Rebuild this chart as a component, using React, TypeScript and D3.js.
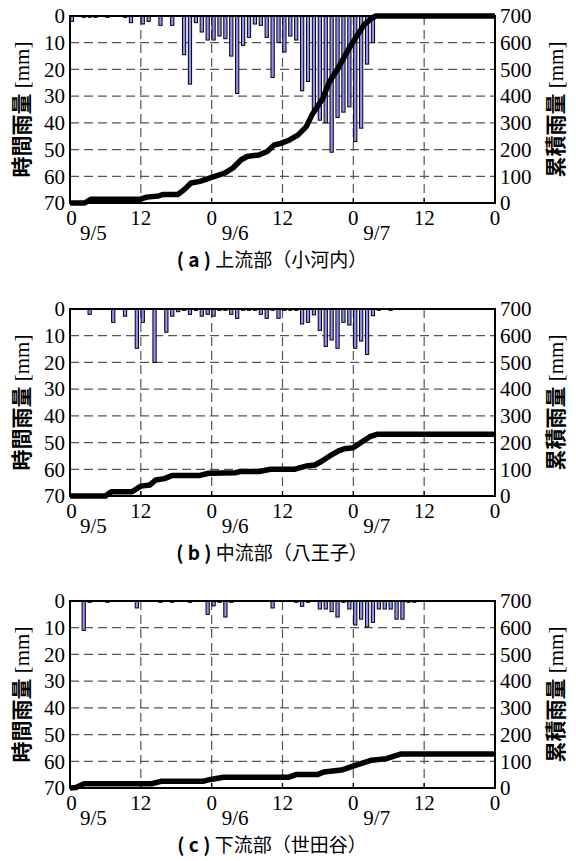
import { useEffect, useRef } from 'react'
import * as d3 from 'd3'

// hourly rainfall [mm], hour 0 = 9/5 0:00
const rainA = [
  2, 0, 0.5, 0.5, 0.5, 0, 0.5, 0, 0, 0.5,
  2.5, 0, 3, 2, 0, 3.5, 0, 3.5, 0, 14.5,
  25.5, 2.5, 6, 9, 9, 7.5, 8.5, 15, 29, 11,
  8, 3, 3.5, 8, 23, 10, 13.5, 7.5, 9, 28,
  24.5, 35, 39, 40, 51, 38, 36, 34, 47, 42,
  18, 10, 0, 0, 0, 0, 0, 0, 0, 0,
  0, 0, 0, 0, 0, 0, 0, 0, 0, 0, 0, 0,
]
const rainB = [
  0, 0, 0, 2, 0, 0, 0, 5, 0, 2.7,
  0, 14.7, 5, 0, 20, 0, 8.7, 2.7, 1, 0.5,
  2, 0.5, 2.7, 2, 2.7, 0.5, 0.5, 2, 3.5, 0.5,
  0.5, 0.5, 2, 3.5, 0.5, 3.5, 0.5, 0.5, 0.5, 5.6,
  5, 2.2, 8, 14, 11.6, 14.7, 5, 6, 14.7, 12,
  17, 2.5, 0.5, 0, 0.5, 0, 0, 0, 0, 0,
  0, 0, 0, 0, 0, 0, 0, 0, 0, 0, 0, 0,
]
const rainC = [
  0, 0, 11, 0.5, 0, 0, 0.5, 0, 0, 0,
  0, 2.6, 0, 0, 0, 0.5, 0, 0.5, 0, 0,
  0.5, 0, 0, 5, 1.8, 0.5, 6, 0.5, 0, 0,
  0, 0, 0, 0, 2.6, 0, 0, 0, 0.5, 2,
  0.5, 0, 3, 3, 4, 6, 0.5, 3, 9, 6.8,
  9.7, 8, 3, 3, 3, 6.8, 6.8, 0.5, 0.5, 0,
  0, 0, 0, 0, 0, 0, 0, 0, 0, 0, 0, 0,
]

// cumulative rainfall [mm] read at the line's bends
const cumHoursA = [0, 2.5, 3.5, 11.8, 13, 15, 15.7, 18.3, 19.4, 20.5, 22, 24, 26.2, 27.6, 29, 30, 32, 33.4, 34.6, 35.7, 37.2, 38.6, 40, 41, 42.8, 43.9, 45.6, 47.3, 48.7, 49.8, 51, 51.8, 72]
const cumValsA = [0, 0, 14, 14, 22, 26, 32, 32, 51, 75, 81, 96, 112, 131, 162, 174, 180, 193, 217, 223, 236, 254, 285, 330, 390, 451, 512, 580, 629, 666, 690, 700, 700]
const cumHoursB = [0, 6, 7, 10.5, 12, 13.5, 14.5, 16, 17.3, 22, 23.5, 28, 29, 32, 34, 38, 39, 40, 41.5, 42.7, 44, 45.5, 46.5, 48, 49.3, 50.8, 52, 72]
const cumValsB = [0, 0, 16, 16, 37, 41, 60, 65, 77, 77, 85, 87, 92, 92, 100, 100, 106, 112, 116, 131, 150, 169, 177, 181, 200, 222, 231, 231]
const cumHoursC = [0, 1, 2.4, 13.8, 15.4, 22.5, 23.8, 26, 37, 38.4, 42, 43, 46, 47.7, 51.1, 53.6, 56, 72]
const cumValsC = [0, 2, 16, 16, 25, 25, 32, 40, 40, 51, 51, 60, 67, 80, 104, 110, 127, 127]

const leftTicks = [0, 10, 20, 30, 40, 50, 60, 70]
const rightTicks = [0, 100, 200, 300, 400, 500, 600, 700]
const xTickHours = [0, 12, 24, 36, 48, 60, 72]
const xTickLabels = ['0', '12', '0', '12', '0', '12', '0']
const dateHours = [0, 24, 48]
const dateLabels = ['9/5', '9/6', '9/7']

const panelTags = ['a', 'b', 'c']
const panelNames = ['上流部（小河内）', '中流部（八王子）', '下流部（世田谷）']

const W = 576
const H = 861
const SERIF = 'Liberation Serif, Tinos, DejaVu Serif, Times New Roman, serif'
const CJK = 'Noto Sans CJK JP, Noto Sans CJK SC, sans-serif'

export default function App() {
  const ref = useRef<SVGSVGElement>(null)

  useEffect(() => {
    if (!ref.current) return
    const svg = d3.select(ref.current)
    svg.selectAll('*').remove()

    const rains = [rainA, rainB, rainC]
    const cumH = [cumHoursA, cumHoursB, cumHoursC]
    const cumV = [cumValsA, cumValsB, cumValsC]
    const tops = [16, 309, 601]
    const ph = 187
    const left = 70
    const right = 495

    const x = d3.scaleLinear().domain([0, 72]).range([left, right])

    tops.forEach((top, i) => {
      const bottom = top + ph
      const yL = d3.scaleLinear().domain([0, 70]).range([top, bottom])
      const yR = d3.scaleLinear().domain([0, 700]).range([bottom, top])
      const g = svg.append('g')

      // grid
      g.selectAll('line.hg')
        .data(leftTicks.slice(1, -1))
        .join('line')
        .attr('x1', left).attr('x2', right)
        .attr('y1', d => yL(d)).attr('y2', d => yL(d))
        .attr('stroke', '#555').attr('stroke-width', 1.2)
        .attr('stroke-dasharray', '9,5')
      g.selectAll('line.vg')
        .data(xTickHours.slice(1, -1))
        .join('line')
        .attr('x1', d => x(d)).attr('x2', d => x(d))
        .attr('y1', top).attr('y2', bottom)
        .attr('stroke', '#555').attr('stroke-width', 1.2)
        .attr('stroke-dasharray', '9,5')

      // hourly bars hanging from the top
      const bw = x(0.65) - x(0)
      g.selectAll('rect.bar')
        .data(rains[i].map((v, k) => ({ v, k })).filter(d => d.v > 0))
        .join('rect')
        .attr('x', d => x(d.k) + 0.3)
        .attr('y', top)
        .attr('width', bw - 0.6)
        .attr('height', d => yL(d.v) - top)
        .attr('fill', '#9090ff')
        .attr('stroke', '#000')
        .attr('stroke-width', 1)

      // cumulative line
      const line = d3.line<number>()
        .x((_, j) => x(cumH[i][j]))
        .y(d => yR(d))
      g.append('path')
        .attr('d', line(cumV[i]) as string)
        .attr('fill', 'none')
        .attr('stroke', '#000')
        .attr('stroke-width', 5.5)
        .attr('stroke-linejoin', 'round')

      // bottom ticks
      g.selectAll('line.xt')
        .data(xTickHours.slice(1, -1))
        .join('line')
        .attr('x1', d => x(d)).attr('x2', d => x(d))
        .attr('y1', bottom).attr('y2', bottom - 5)
        .attr('stroke', '#000').attr('stroke-width', 1.2)

      // frame
      g.append('rect')
        .attr('x', left).attr('y', top)
        .attr('width', right - left).attr('height', ph)
        .attr('fill', 'none').attr('stroke', '#000').attr('stroke-width', 2)

      // tick labels
      g.selectAll('text.yl')
        .data(leftTicks)
        .join('text')
        .attr('x', left - 5).attr('y', d => yL(d))
        .attr('dy', '0.35em')
        .attr('text-anchor', 'end')
        .style('font-family', SERIF).attr('font-size', 21)
        .text(d => d)
      g.selectAll('text.yr')
        .data(rightTicks)
        .join('text')
        .attr('x', right + 5).attr('y', d => yR(d))
        .attr('dy', '0.35em')
        .attr('text-anchor', 'start')
        .style('font-family', SERIF).attr('font-size', 21)
        .text(d => d)
      g.selectAll('text.xl')
        .data(xTickHours)
        .join('text')
        .attr('x', (d, j) => x(d) + (j === 0 ? 1.5 : 0)).attr('y', bottom + 22)
        .attr('text-anchor', 'middle')
        .style('font-family', SERIF).attr('font-size', 21)
        .text((_, j) => xTickLabels[j])
      g.selectAll('text.dl')
        .data(dateHours)
        .join('text')
        .attr('x', d => x(d) + 10).attr('y', bottom + 37)
        .attr('text-anchor', 'start')
        .style('font-family', SERIF).attr('font-size', 21)
        .text((_, j) => dateLabels[j])

      // axis titles
      const cy = (top + bottom) / 2
      const lt = g.append('text')
        .attr('transform', `translate(22,${cy}) rotate(-90)`)
        .attr('text-anchor', 'middle')
        .attr('dy', '0.35em')
        .attr('font-size', 21)
      lt.append('tspan').style('font-family', CJK).attr('font-weight', 'bold').text('時間雨量')
      lt.append('tspan').style('font-family', SERIF).text(' [mm]')
      const rt = g.append('text')
        .attr('transform', `translate(556,${cy}) rotate(-90)`)
        .attr('text-anchor', 'middle')
        .attr('dy', '0.35em')
        .attr('font-size', 21)
      rt.append('tspan').style('font-family', CJK).attr('font-weight', 'bold').text('累積雨量')
      rt.append('tspan').style('font-family', SERIF).text(' [mm]')

      // caption
      const cap = g.append('text')
        .attr('x', 272).attr('y', bottom + 64)
        .attr('text-anchor', 'middle')
        .style('font-family', CJK).attr('font-size', 19)
      cap.append('tspan').attr('font-weight', 'bold').text(`( ${panelTags[i]} ) `)
      cap.append('tspan').text(panelNames[i])
    })
  }, [])

  return (
    <svg
      ref={ref}
      width={W}
      height={H}
      style={{ position: 'absolute', left: 0, top: 0, background: '#fff' }}
    />
  )
}
